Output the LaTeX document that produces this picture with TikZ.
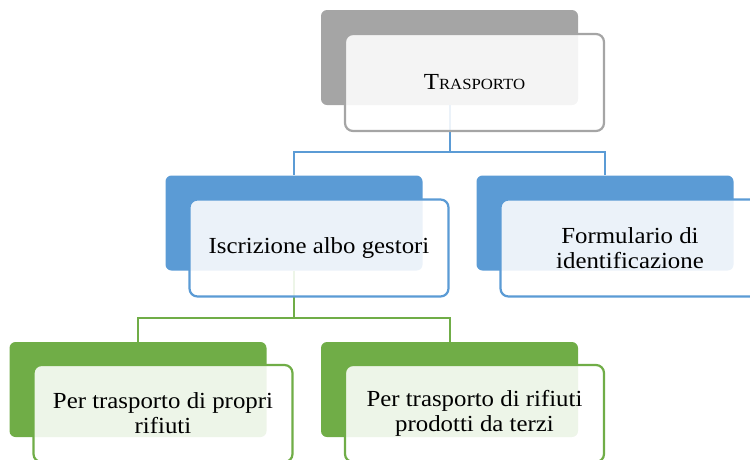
\documentclass[tikz,border=0pt]{standalone}
\usepackage{fontspec}
\setmainfont[FakeStretch=1.08]{Liberation Serif}
\usepackage{tikz}

\definecolor{topgray}{HTML}{A5A5A5}
\definecolor{midblue}{HTML}{5B9BD5}
\definecolor{lowgreen}{HTML}{70AD47}

\begin{document}
\begin{tikzpicture}[x=1pt, y=-1pt, align=center,
	font=\fontsize{23}{25}\selectfont,
	back box/.style={rectangle, rounded corners=6pt, fill=#1, inner sep=0pt, minimum width=257pt, minimum height=95pt},
	front box/.style={rectangle, rounded corners=8pt, draw=#1, line width=2.2pt, fill=white, fill opacity=0.88, text opacity=1, inner sep=0pt, minimum width=259pt, minimum height=97pt},
	link/.style={draw=#1, line width=2pt},
]
\useasboundingbox (0,0) rectangle (750,459);
% back boxes
\node [back box=topgray] (topB) at (449.5, 57.5) {};
\node [back box=midblue] (albB) at (294, 223) {};
\node [back box=midblue] (forB) at (605, 223) {};
\node [back box=lowgreen] (proB) at (138, 389.5) {};
\node [back box=lowgreen] (terB) at (449.5, 389.5) {};
%
\draw [link=midblue] (topB.south) -- ++(0, 47) -| (albB.north);
\draw [link=midblue] (topB.south) -- ++(0, 47) -| (forB.north);
\draw [link=lowgreen] (albB.south) -- ++(0, 47) -| (proB.north);
\draw [link=lowgreen] (albB.south) -- ++(0, 47) -| (terB.north);
% front boxes
\node [front box=topgray] (top) at ([shift={(25, 25)}]topB.center) {T{\fontsize{15.5}{20}\selectfont RASPORTO}};
\node [front box=midblue] (alb) at ([shift={(25, 25)}]albB.center) {Iscrizione albo gestori};
\node [front box=midblue] (for) at ([shift={(25, 25)}]forB.center) {Formulario di\\identificazione};
\node [front box=lowgreen] (pro) at ([shift={(25, 24)}]proB.center) {Per trasporto di propri\\rifiuti};
\node [front box=lowgreen] (ter) at ([shift={(25, 24)}]terB.center) {Per trasporto di rifiuti\\prodotti da terzi};
\end{tikzpicture}
\end{document}
